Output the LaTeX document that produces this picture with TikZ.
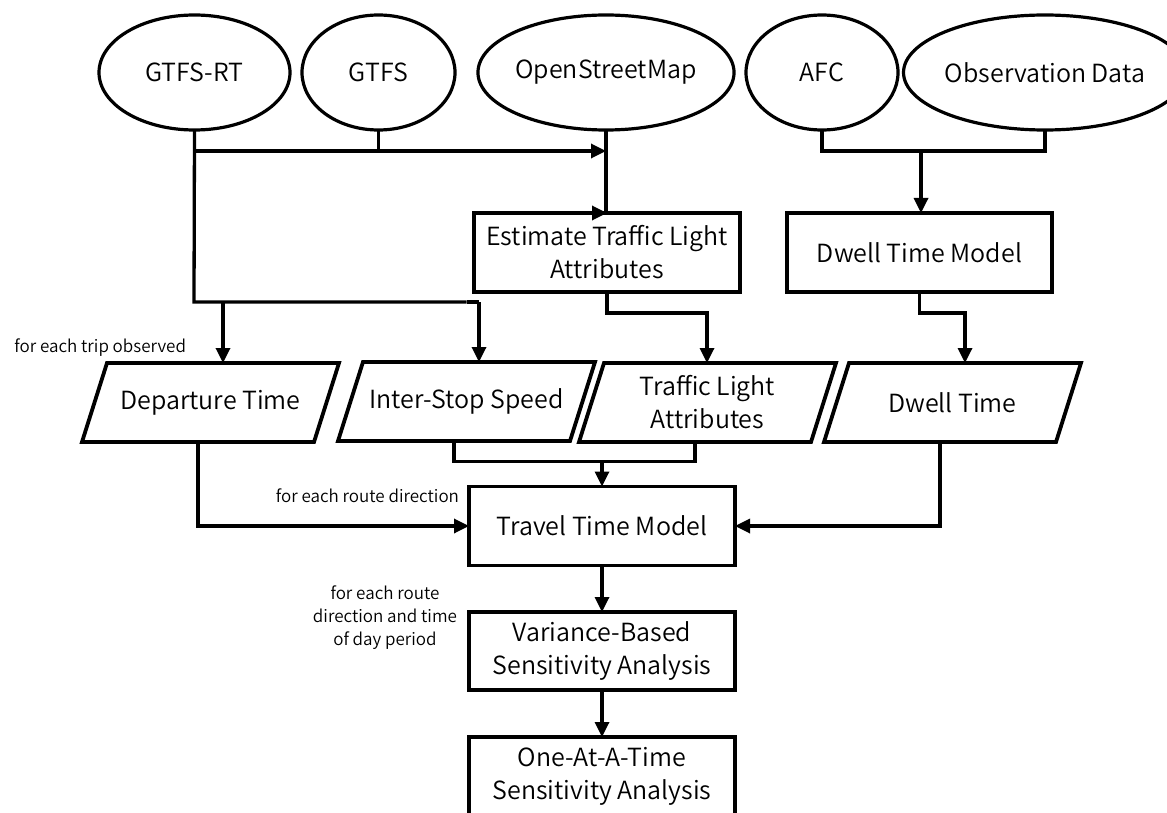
\documentclass[tikz,border=0pt]{standalone}
\usepackage{fontspec}
\IfFontExistsTF{Noto Sans CJK SC DemiLight}{\setmainfont{Noto Sans CJK SC DemiLight}}{\setmainfont{Noto Sans CJK SC Light}}
\usetikzlibrary{shapes.geometric,arrows.meta}
\begin{document}
\begin{tikzpicture}[x=1pt,y=-1pt,
  every node/.style={inner sep=0pt, outer sep=0pt},
  src/.style={draw, ellipse, line width=3.2pt, minimum height=115pt, font=\fontsize{25}{33}\selectfont},
  proc/.style={draw, rectangle, line width=3.8pt, minimum width=266pt, minimum height=79pt, align=center, font=\fontsize{25}{33}\selectfont},
  paratext/.style={rectangle, minimum width=232pt, minimum height=79pt, align=center, font=\fontsize{25}{33}\selectfont},
  paraline/.style={line width=3.8pt, line join=miter},
  conn/.style={line width=3.3pt},
  arr/.style={line width=3.3pt, -{Triangle[length=15pt,width=14pt]}},
  note/.style={font=\fontsize{17}{23}\selectfont, align=center}]
\useasboundingbox (0,0) rectangle (1167,813);

% sources
\node[src, minimum width=191pt] (rt) at (194.5,72.5) {GTFS-RT};
\node[src, minimum width=153pt] (gtfs) at (378.5,72.5) {GTFS};
\node[src, minimum width=255pt] (osm) at (606,72.5) {OpenStreetMap};
\node[src, minimum width=152pt] (afc) at (822,72.5) {AFC};
\node[src, minimum width=244pt] (obs) at (1045,72.5) {Observation Data};

% process boxes
\node[proc] (est) at (607,252.5) {Estimate Traffic Light\\Attributes};
\node[proc, minimum width=265pt] (dwm) at (919.5,252.5) {Dwell Time Model};
\node[proc] (ttm) at (602,526) {Travel Time Model};
\node[proc, minimum height=78pt] (vbs) at (602,651) {Variance-Based\\Sensitivity Analysis};
\node[proc] (oat) at (602,776.5) {One-At-A-Time\\Sensitivity Analysis};

% data parallelograms
\newcommand{\paral}[1]{\draw[paraline] ([xshift=12.5pt]#1.north west) -- ([xshift=12.5pt]#1.north east) -- ([xshift=-12.5pt]#1.south east) -- ([xshift=-12.5pt]#1.south west) -- cycle;}
\node[paratext] (dep) at (210.5,402.5) {Departure Time};
\node[paratext] (isp) at (466.5,401.5) {Inter-Stop Speed};
\node[paratext] (tla) at (707.5,402.5) {Traffic Light\\Attributes};
\node[paratext] (dwt) at (952.5,402.5) {Dwell Time};
\paral{dep}\paral{isp}\paral{tla}\paral{dwt}

% helper coordinates
\coordinate (j1) at (194,151);
\coordinate (j2) at (194,302);
\coordinate (j3) at (223,302);
\coordinate (tlatop) at (707,363);
\coordinate (afcobs) at (921,151);
\coordinate (mid) at (602,461.5);

% left source connectors
\draw[conn] (rt.south) -- (j2) -- (j2 -| isp.north);
\draw[arr] (j2 -| isp.north) ++(12.5,0) -- ([xshift=12.5pt]isp.north);
\draw[conn] (j2 -| isp.north) -- ++(12.5,0);
\draw[arr] (j3) -- ([xshift=12.5pt]dep.north);
\draw[conn] (gtfs.south) -- (gtfs.south |- j1);
\draw[arr] (j1) -- (j1 -| osm.south);
\draw[arr] (osm.south) -- (osm.south |- est.north) -- (est.north);

% right source connectors
\draw[conn] (afc.south) |- (afcobs) -| (obs.south);
\draw[arr] (afcobs) -- (afcobs |- dwm.north);

% process to data
\draw[arr] (est.south) -- ++(0,21) -| (tlatop);
\draw[arr] (dwm.south) -- ++(0,21) -| ([xshift=12.5pt]dwt.north);

% data to travel time model
\draw[arr] ([xshift=-12.5pt]dep.south) |- (ttm.west);
\draw[conn] ([xshift=-12.5pt]isp.south) |- (mid);
\draw[conn] ([xshift=-12.5pt]tla.south) |- (mid);
\draw[arr] (mid) -- (ttm.north);
\draw[arr] ([xshift=-12.5pt]dwt.south) |- (ttm.east);

% analysis chain
\draw[arr] (ttm.south) -- (vbs.north);
\draw[arr] (vbs.south) -- (oat.north);

% notes
\node[note, anchor=east] (n1) at (186,348) {for each trip observed};
\node[note, anchor=east] (n2) at (459,496) {for each route direction};
\node[note] (n3) at (385,618) {for each route\\direction and time\\of day period};
\end{tikzpicture}
\end{document}
